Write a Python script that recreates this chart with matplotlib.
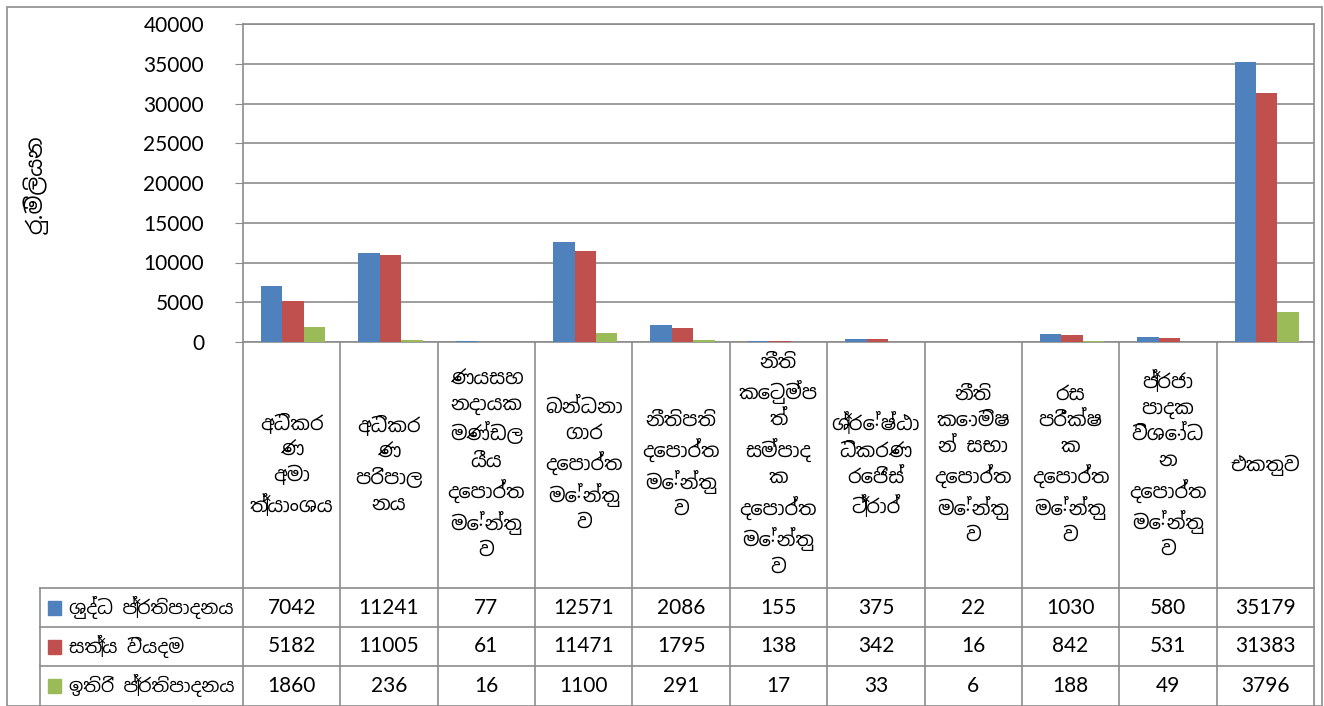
import matplotlib
matplotlib.use('Agg')
import matplotlib.pyplot as plt
from matplotlib import font_manager
from matplotlib.patches import Rectangle
import numpy as np

categories = [
    'අධිකර\nණ\nඅමා\nත්‍යාංශය',
    'අධිකර\nණ\nපරිපාල\nනය',
    'ණයසහ\nනදායක\nමණ්ඩල\nයීය\nදෙපාර්ත\nමේන්තු\nව',
    'බන්ධනා\nගාර\nදෙපාර්ත\nමේන්තු\nව',
    'නීතිපති\nදෙපාර්ත\nමේන්තු\nව',
    'නීති\nකෙටුම්ප\nත්\nසම්පාද\nක\nදෙපාර්ත\nමේන්තු\nව',
    'ශ්‍රේෂ්ඨා\nධිකරණ\nරෙජිස්\nට්‍රාර්',
    'නීති\nකොමිෂ\nන් සභා\nදෙපාර්ත\nමේන්තු\nව',
    'රස\nපරීක්ෂ\nක\nදෙපාර්ත\nමේන්තු\nව',
    'ප්‍රජා\nපාදක\nවිශෝධ\nන\nදෙපාර්ත\nමේන්තු\nව',
    'එකතුව',
]
series_names = ['ශුද්ධ ප්‍රතිපාදනය', 'සත්‍ය වියදම', 'ඉතිරි ප්‍රතිපාදනය']
net_provision = [7042, 11241, 77, 12571, 2086, 155, 375, 22, 1030, 580, 35179]
actual_spend = [5182, 11005, 61, 11471, 1795, 138, 342, 16, 842, 531, 31383]
remaining = [1860, 236, 16, 1100, 291, 17, 33, 6, 188, 49, 3796]
colors = ['#4F81BD', '#C0504D', '#9BBB59']
y_label = 'රු.මිලියන'
y_ticks = [0, 5000, 10000, 15000, 20000, 25000, 30000, 35000, 40000]

# font: use a Sinhala family if one is installed
names = {f.name for f in font_manager.fontManager.ttflist}
sinhala = [n for n in ['Noto Sans Sinhala', 'Noto Serif Sinhala', 'Iskoola Pota',
                       'LKLUG', 'Lohit Sinhala', 'Malithi Web'] if n in names]
plt.rcParams['font.family'] = sinhala + ['Lato', 'DejaVu Sans']

W, H = 1324, 706
fig = plt.figure(figsize=(W / 100, H / 100), dpi=100)
grid_c = '#8c8c8c'

# outer border
fig.patches.append(Rectangle((7 / W, 0), (W - 9) / W, (H - 7) / H, transform=fig.transFigure,
                             fill=False, edgecolor=grid_c, lw=1.2))

left, right, top, zero = 243, 1314, 24, 342
ax = fig.add_axes([left / W, 1 - zero / H, (right - left) / W, (zero - top) / H])
data = [net_provision, actual_spend, remaining]
n = len(categories)
x = np.arange(n)
w = 0.22
for i, (vals, c) in enumerate(zip(data, colors)):
    ax.bar(x + (i - 1) * w + 0.015, vals, width=w, color=c, zorder=3)
ax.set_xlim(-0.5, n - 0.5)
ax.set_ylim(0, 40000)
ax.set_yticks(y_ticks)
ax.set_xticks([])
ax.yaxis.grid(True, color=grid_c, lw=1.2)
ax.tick_params(axis='y', length=6, color=grid_c, labelsize=15, pad=22)
for t in ax.get_yticklabels():
    t.set_fontfamily(['Lato', 'DejaVu Sans'])
for s in ax.spines.values():
    s.set_color(grid_c)
    s.set_linewidth(1.2)
fig.text(35 / W, 1 - 185 / H, y_label, rotation=90, ha='center', va='center',
         fontsize=16, fontweight='bold')

# data table under the axes
tab = fig.add_axes([left / W, 0, (right - left) / W, (H - zero) / H])
tab.set_xlim(-0.5, n - 0.5)
tab.set_ylim(H - zero, 0)
tab.axis('off')
header_h = 246
row_h = 39
leg_left = -0.5 - (left - 40) / ((right - left) / n)
rows_bottom = header_h + 3 * row_h
for k in range(n + 1):
    tab.plot([k - 0.5, k - 0.5], [0, rows_bottom], color=grid_c, lw=1.2, clip_on=False)
tab.plot([leg_left, leg_left], [header_h, rows_bottom], color=grid_c, lw=1.2, clip_on=False)
for r in range(3):
    yy = header_h + r * row_h
    tab.plot([leg_left, n - 0.5], [yy, yy], color=grid_c, lw=1.2, clip_on=False)

for i, cat in enumerate(categories):
    tab.text(i, header_h / 2, cat, ha='center', va='center', fontsize=14, linespacing=1.4)

for r, (name, vals, c) in enumerate(zip(series_names, data, colors)):
    yc = header_h + r * row_h + row_h / 2
    tab.add_patch(Rectangle((leg_left + 0.08, yc - 7), 0.14, 14, color=c, clip_on=False))
    tab.text(leg_left + 0.3, yc, name, ha='left', va='center', fontsize=13.5, clip_on=False)
    for i, v in enumerate(vals):
        tab.text(i, yc, str(v), ha='center', va='center', fontsize=15,
                 family=['Lato', 'DejaVu Sans'])

fig.savefig('out.png', dpi=100)
